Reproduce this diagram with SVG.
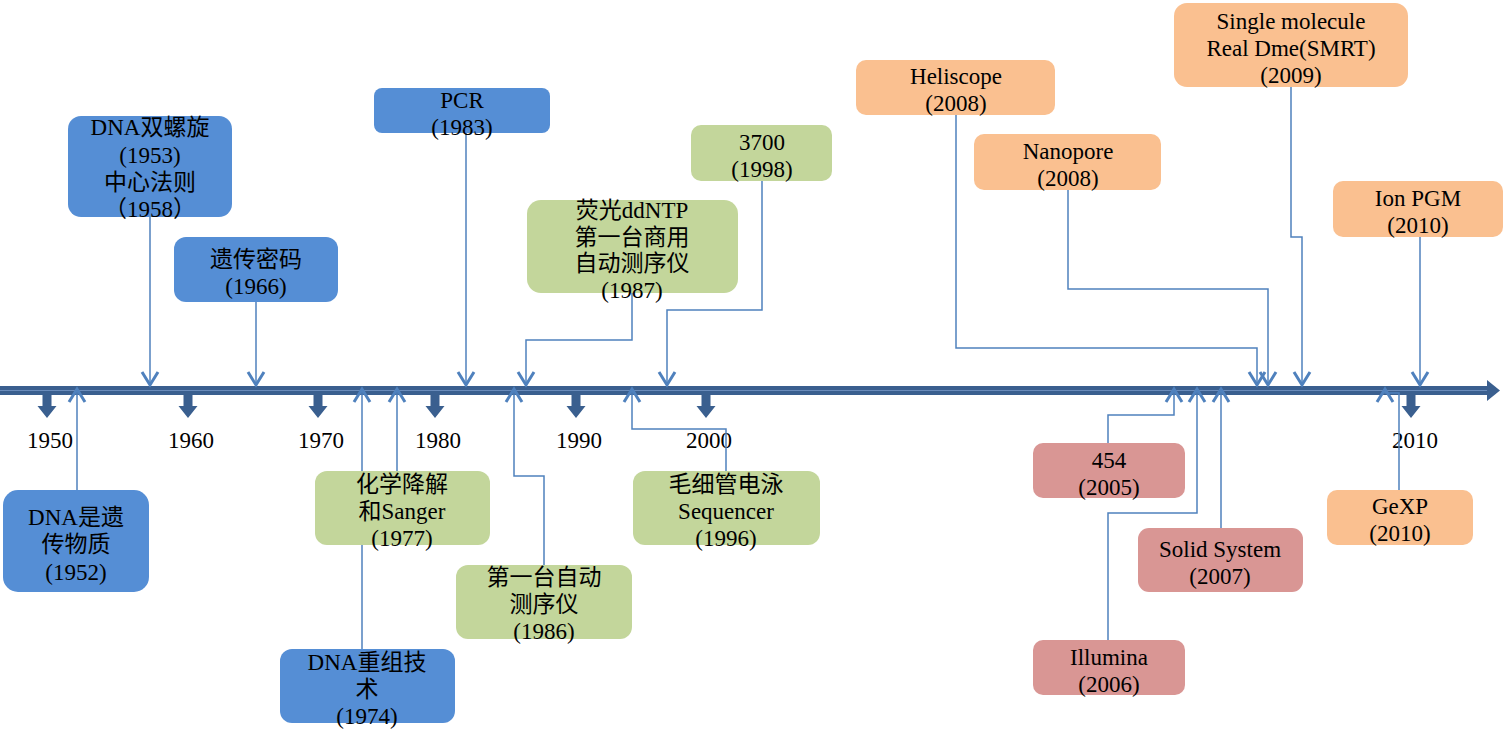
<svg xmlns="http://www.w3.org/2000/svg" xmlns:xlink="http://www.w3.org/1999/xlink" width="1503" height="733" viewBox="0 0 1503 733">
<style>
text{font-family:"Liberation Serif","Noto Sans CJK SC",serif;font-size:23px;fill:#000;text-anchor:middle}
.b{fill:#558ED5}
.g{fill:#C3D69B}
.o{fill:#FAC090}
.r{fill:#D99694}
.c{fill:none;stroke:#4F81BD;stroke-width:1.5}
.cd{marker-end:url(#ah)}
.yr{font-size:23px}
</style>
<defs>
<marker id="ah" markerUnits="userSpaceOnUse" markerWidth="30" markerHeight="30" refX="0" refY="0" orient="auto" overflow="visible">
<path d="M-13,-8 L0,0 L-13,8" fill="none" stroke="#4F81BD" stroke-width="3"/>
</marker>
<path id="tick" d="M-4.5,0 H4.5 V11 H9.5 L0,23 L-9.5,11 H-4.5 Z" fill="#3A5F8F"/>
</defs>
<g id="axis">
<rect x="0" y="386" width="1489" height="9" fill="#3A5F8F"/>
<line x1="0" y1="390.5" x2="1489" y2="390.5" stroke="#6A8CBB" stroke-width="1"/>
<polygon points="1487,380 1500,390.5 1487,401" fill="#3A5F8F"/>
<use xlink:href="#tick" x="47" y="395"/>
<use xlink:href="#tick" x="188" y="395"/>
<use xlink:href="#tick" x="318" y="395"/>
<use xlink:href="#tick" x="435" y="395"/>
<use xlink:href="#tick" x="576" y="395"/>
<use xlink:href="#tick" x="706" y="395"/>
<use xlink:href="#tick" x="1411" y="395"/>
<text class="yr" x="50" y="448">1950</text>
<text class="yr" x="191" y="448">1960</text>
<text class="yr" x="321" y="448">1970</text>
<text class="yr" x="438" y="448">1980</text>
<text class="yr" x="579" y="448">1990</text>
<text class="yr" x="709" y="448">2000</text>
<text class="yr" x="1415" y="448">2010</text>
</g>
<g id="connectors">
<path class="c cd" d="M150,217 V385"/>
<path class="c cd" d="M256,302 V385"/>
<path class="c cd" d="M466,133 V385"/>
<path class="c cd" d="M632,293 V340 H526 V385"/>
<path class="c cd" d="M762,181 V310 H667 V385"/>
<path class="c cd" d="M956,115 V348 H1257 V385"/>
<path class="c cd" d="M1068,190 V289 H1268 V385"/>
<path class="c cd" d="M1291,87 V237 H1302 V385"/>
<path class="c cd" d="M1420,232 V385"/>
<path class="c cd" d="M77,490 V389"/>
<path class="c cd" d="M362,649 V389"/>
<path class="c cd" d="M393,472 V480 H397 V389"/>
<path class="c cd" d="M544,565 V476 H514 V389"/>
<path class="c cd" d="M726,471 V429 H632 V389"/>
<path class="c cd" d="M1108,443 V415 H1174 V389"/>
<path class="c cd" d="M1108,640 V513 H1197 V389"/>
<path class="c cd" d="M1221,528 V389"/>
<path class="c cd" d="M1399,490 V393 H1385 V389"/>
</g>
<g id="n1953"><rect class="b" x="68" y="116" width="164" height="101" rx="13"/><text x="150" y="135">DNA双螺旋</text><text x="150" y="163">(1953)</text><text x="150" y="190">中心法则</text><text x="150" y="217">（1958）</text></g>
<g id="n1966"><rect class="b" x="174" y="237" width="164" height="65" rx="12"/><text x="256" y="267">遗传密码</text><text x="256" y="294">(1966)</text></g>
<g id="n1983"><rect class="b" x="374" y="88" width="176" height="45" rx="8"/><text x="462" y="108">PCR</text><text x="462" y="135">(1983)</text></g>
<g id="n1987"><rect class="g" x="527" y="200" width="211" height="93" rx="14"/><text x="632" y="218">荧光ddNTP</text><text x="632" y="245">第一台商用</text><text x="632" y="271">自动测序仪</text><text x="632" y="298">(1987)</text></g>
<g id="n1998"><rect class="g" x="691" y="125" width="141" height="56" rx="10"/><text x="762" y="150">3700</text><text x="762" y="177">(1998)</text></g>
<g id="nHeliscope"><rect class="o" x="856" y="60" width="199" height="55" rx="10"/><text x="956" y="84">Heliscope</text><text x="956" y="111">(2008)</text></g>
<g id="nNanopore"><rect class="o" x="974" y="134" width="187" height="56" rx="10"/><text x="1068" y="159">Nanopore</text><text x="1068" y="186">(2008)</text></g>
<g id="nSMRT"><rect class="o" x="1174" y="3" width="234" height="84" rx="13"/><text x="1291" y="29">Single molecule</text><text x="1291" y="56">Real Dme(SMRT)</text><text x="1291" y="83">(2009)</text></g>
<g id="nIonPGM"><rect class="o" x="1333" y="181" width="170" height="56" rx="10"/><text x="1418" y="206">Ion PGM</text><text x="1418" y="233">(2010)</text></g>
<g id="n1952"><rect class="b" x="3" y="490" width="146" height="102" rx="15"/><text x="76" y="525">DNA是遗</text><text x="76" y="552">传物质</text><text x="76" y="580">(1952)</text></g>
<g id="n1974"><rect class="b" x="280" y="649" width="175" height="74" rx="12"/><text x="367" y="670">DNA重组技</text><text x="367" y="697">术</text><text x="367" y="724">(1974)</text></g>
<g id="n1977"><rect class="g" x="315" y="471" width="175" height="74" rx="12"/><text x="402" y="492">化学降解</text><text x="402" y="519">和Sanger</text><text x="402" y="546">(1977)</text></g>
<g id="n1986"><rect class="g" x="456" y="565" width="176" height="74" rx="12"/><text x="544" y="585">第一台自动</text><text x="544" y="612">测序仪</text><text x="544" y="639">(1986)</text></g>
<g id="n1996"><rect class="g" x="633" y="471" width="187" height="74" rx="12"/><text x="726" y="492">毛细管电泳</text><text x="726" y="519">Sequencer</text><text x="726" y="546">(1996)</text></g>
<g id="n454"><rect class="r" x="1033" y="443" width="152" height="55" rx="10"/><text x="1109" y="468">454</text><text x="1109" y="495">(2005)</text></g>
<g id="nIllumina"><rect class="r" x="1033" y="640" width="152" height="55" rx="10"/><text x="1109" y="665">Illumina</text><text x="1109" y="692">(2006)</text></g>
<g id="nSolid"><rect class="r" x="1138" y="528" width="165" height="64" rx="11"/><text x="1220" y="557">Solid System</text><text x="1220" y="584">(2007)</text></g>
<g id="nGeXP"><rect class="o" x="1327" y="490" width="146" height="55" rx="10"/><text x="1400" y="514">GeXP</text><text x="1400" y="541">(2010)</text></g>
</svg>
